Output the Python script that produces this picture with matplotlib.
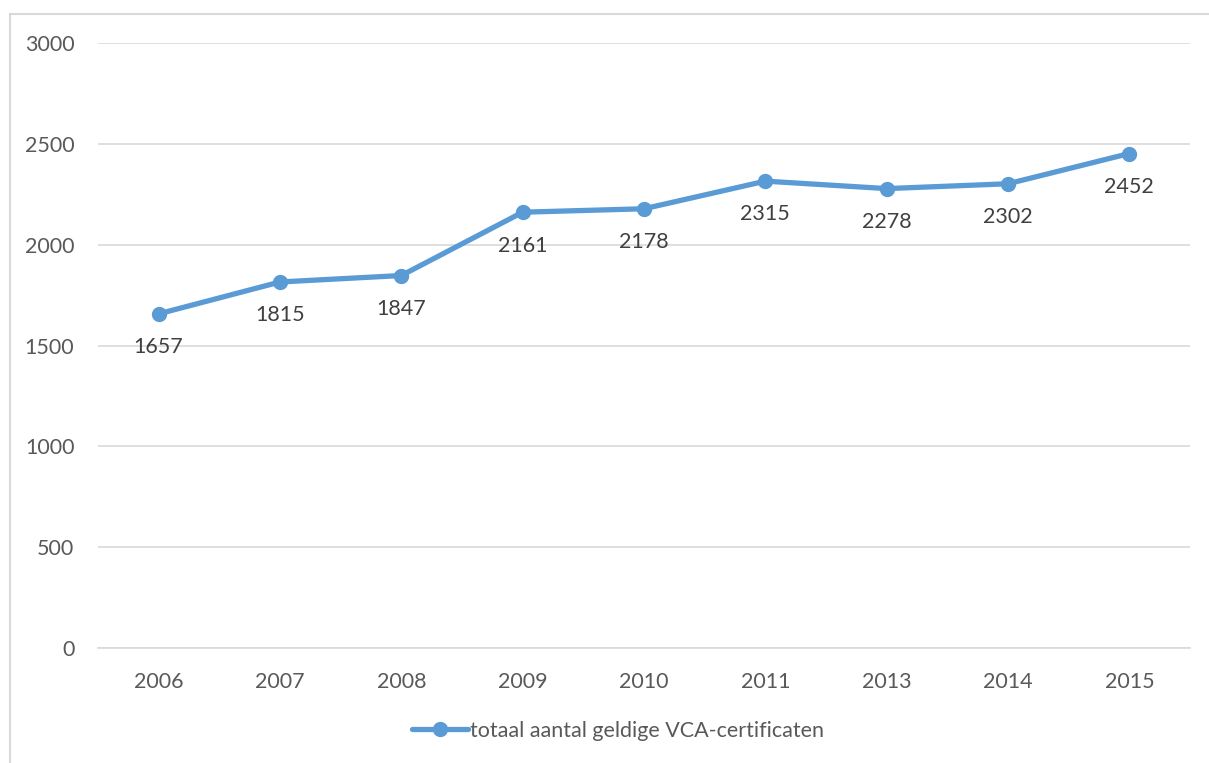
import matplotlib
matplotlib.use("Agg")
import matplotlib.pyplot as plt
from matplotlib.lines import Line2D

# gegevens
jaren = ["2006", "2007", "2008", "2009", "2010", "2011", "2013", "2014", "2015"]
aantal = [1657, 1815, 1847, 2161, 2178, 2315, 2278, 2302, 2452]
reeks_naam = "totaal aantal geldige VCA-certificaten"

plt.rcParams['font.family'] = ['Lato', 'DejaVu Sans']

blauw = "#5B9BD5"
tekst = "#595959"
fs = 15.5

fig = plt.figure(figsize=(12.09, 7.63), dpi=100)
ax = fig.add_axes([98 / 1209, 115 / 763, 1092 / 1209, 605 / 763])

x = list(range(len(jaren)))
ax.plot(x, aantal, color=blauw, lw=3.8, marker="o", markersize=10,
        solid_capstyle="round", label=reeks_naam, zorder=3)

for xi, v in zip(x, aantal):
    ax.annotate(str(v), (xi, v), xytext=(0, -24), textcoords="offset points",
                ha="center", va="center", fontsize=fs, color="#404040")

ax.set_xlim(-0.5, len(jaren) - 0.5)
ax.set_ylim(0, 3000)
ax.set_yticks(range(0, 3001, 500))
ax.set_xticks(x)
ax.set_xticklabels(jaren)
ax.grid(axis="y", color="#D9D9D9", lw=1.2)
ax.set_axisbelow(True)
for s in ["top", "right", "left"]:
    ax.spines[s].set_visible(False)
ax.spines["bottom"].set_color("#D9D9D9")
ax.spines["bottom"].set_linewidth(1.2)
ax.tick_params(axis="both", length=0, labelsize=fs, colors=tekst)
ax.tick_params(axis="y", pad=17)
ax.tick_params(axis="x", pad=17)

leg = fig.legend(loc="center", bbox_to_anchor=(618 / 1209, 1 - 731 / 763),
                 frameon=False, fontsize=fs, handlelength=2.6, handletextpad=0.1)
for t in leg.get_texts():
    t.set_color(tekst)

# kaderrand (alleen links en boven zichtbaar)
x0, y0 = 10 / 1209, 1 - 14 / 763
fig.add_artist(Line2D([x0, x0], [0, y0], transform=fig.transFigure,
                      color="#D9D9D9", lw=1.5))
fig.add_artist(Line2D([x0, 1], [y0, y0], transform=fig.transFigure,
                      color="#D9D9D9", lw=1.5))

fig.savefig("out.png", dpi=100)
